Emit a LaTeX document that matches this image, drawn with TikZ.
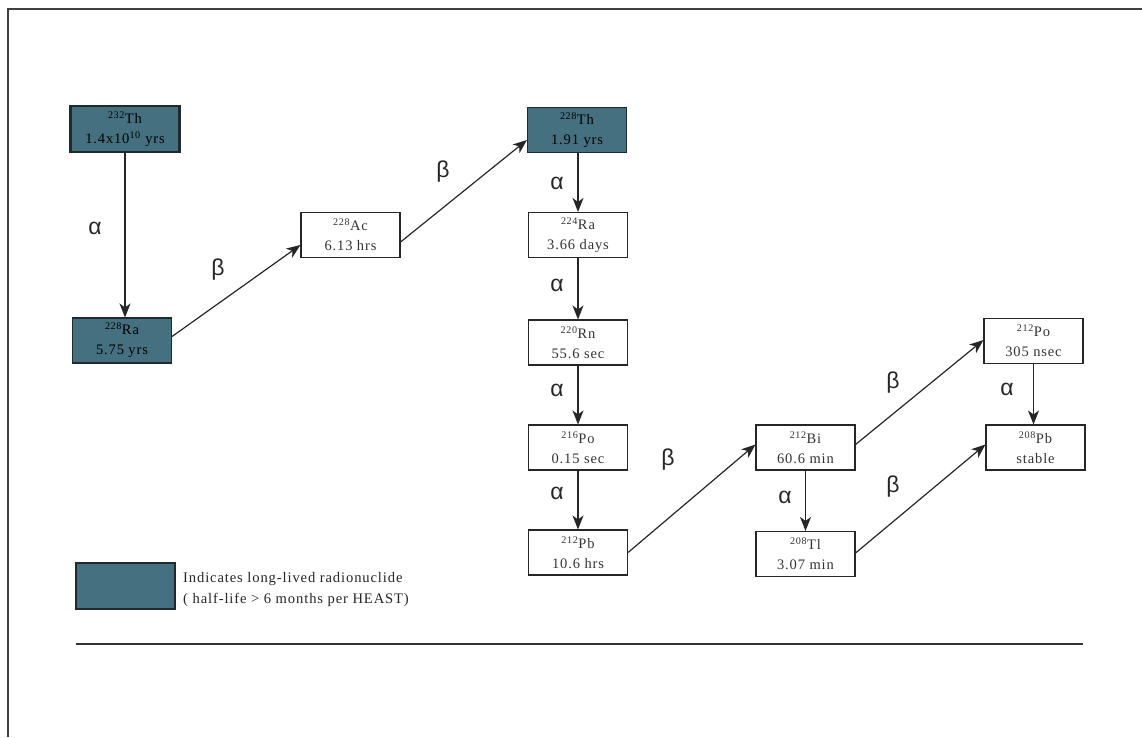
\documentclass[tikz,border=0pt]{standalone}
\usepackage{fontspec}
\setmainfont{Liberation Serif}[LetterSpace=6]
\newfontfamily\greekfont{Liberation Sans}
\usetikzlibrary{arrows.meta}
\definecolor{longlived}{HTML}{44707F}
\definecolor{darkedge}{HTML}{1E2A2E}
\tikzset{
  nuc/.style={draw=black!85, line width=1.1pt, minimum width=99pt, minimum height=45pt, inner sep=0pt, align=center, font=\fontsize{14.5}{20}\selectfont, text=black!80, fill=white},
  longnuc/.style={nuc, fill=longlived, draw=darkedge, text=black},
  thicknuc/.style={longnuc, line width=2.6pt, minimum width=109pt, minimum height=46pt},
  decay/.style={draw=black!85, line width=1.2pt, -{Stealth[length=14pt,width=11pt,inset=4pt]}},
  lab/.style={font=\greekfont\fontsize{23}{23}\selectfont, text=black!85},
}
\begin{document}
\begin{tikzpicture}[x=1pt,y=-1pt]
\useasboundingbox (0,0) rectangle (1142,737);
% frame
\draw[line width=1.8pt, black!75] (8,737) -- (8,9) -- (1142,9);
\draw[line width=1.8pt, black!80] (76,644) -- (1083,644);
% nodes
\node[thicknuc] (th232) at (125,129) {\textsuperscript{232}Th\\1.4x10\textsuperscript{10} yrs};
\node[longnuc] (ra228) at (122,340.5) {\textsuperscript{228}Ra\\5.75 yrs};
\node[nuc] (ac228) at (350.5,235) {\textsuperscript{228}Ac\\6.13 hrs};
\node[longnuc] (th228) at (577,130) {\textsuperscript{228}Th\\1.91 yrs};
\node[nuc] (ra224) at (578,235) {\textsuperscript{224}Ra\\3.66 days};
\node[nuc] (rn220) at (578,342.5) {\textsuperscript{220}Rn\\55.6 sec};
\node[nuc] (po216) at (578,447.5) {\textsuperscript{216}Po\\0.15 sec};
\node[nuc] (pb212) at (578,552.5) {\textsuperscript{212}Pb\\10.6 hrs};
\node[nuc] (bi212) at (805.5,447.5) {\textsuperscript{212}Bi\\60.6 min};
\node[nuc] (tl208) at (805.5,554) {\textsuperscript{208}Tl\\3.07 min};
\node[nuc] (po212) at (1033.5,341) {\textsuperscript{212}Po\\305 nsec};
\node[nuc] (pb208) at (1035.5,447.5) {\textsuperscript{208}Pb\\stable};
% legend
\node[longnuc, minimum width=99pt, minimum height=46pt] (legbox) at (125.5,586) {};
\node[anchor=north west, align=left, inner sep=0pt, font=\fontsize{14.6}{21.5}\selectfont, text=black!85] (legtext) at (183,572) {Indicates long-lived radionuclide\\( half-life > 6 months per HEAST)};
% connectors
\draw[decay] (th232.south) -- (th232.south |- ra228.north);
\draw[decay] ([yshift=4pt]ra228.east) -- ([yshift=-10pt]ac228.west);
\draw[decay] ([yshift=-7pt]ac228.east) -- ([yshift=-10pt]th228.west);
\draw[decay] (ra224.north |- th228.south) -- (ra224.north);
\draw[decay] (ra224.south) -- (rn220.north);
\draw[decay] (rn220.south) -- (po216.north);
\draw[decay] (po216.south) -- (pb212.north);
\draw[decay] (pb212.east) -- ([yshift=3pt]bi212.west);
\draw[decay] (bi212.south) -- (tl208.north);
\draw[decay] ([yshift=3pt]bi212.east) -- ([yshift=1pt]po212.west);
\draw[decay] ([yshift=1pt]tl208.east) -- ([yshift=3pt]pb208.west);
\draw[decay] (po212.south) -- (po212.south |- pb208.north);
% labels
\node[lab] (a1) at (95,228) {α};
\node[lab] (b1) at (218,270) {β};
\node[lab] (b2) at (443,172) {β};
\node[lab] (a2) at (557,183) {α};
\node[lab] (a3) at (557,285) {α};
\node[lab] (a4) at (557,390) {α};
\node[lab] (a5) at (557,493) {α};
\node[lab] (b3) at (668,460) {β};
\node[lab] (a6) at (785,497) {α};
\node[lab] (b4) at (893,383) {β};
\node[lab] (b5) at (893,487) {β};
\node[lab] (a7) at (1007,389) {α};
\end{tikzpicture}
\end{document}
